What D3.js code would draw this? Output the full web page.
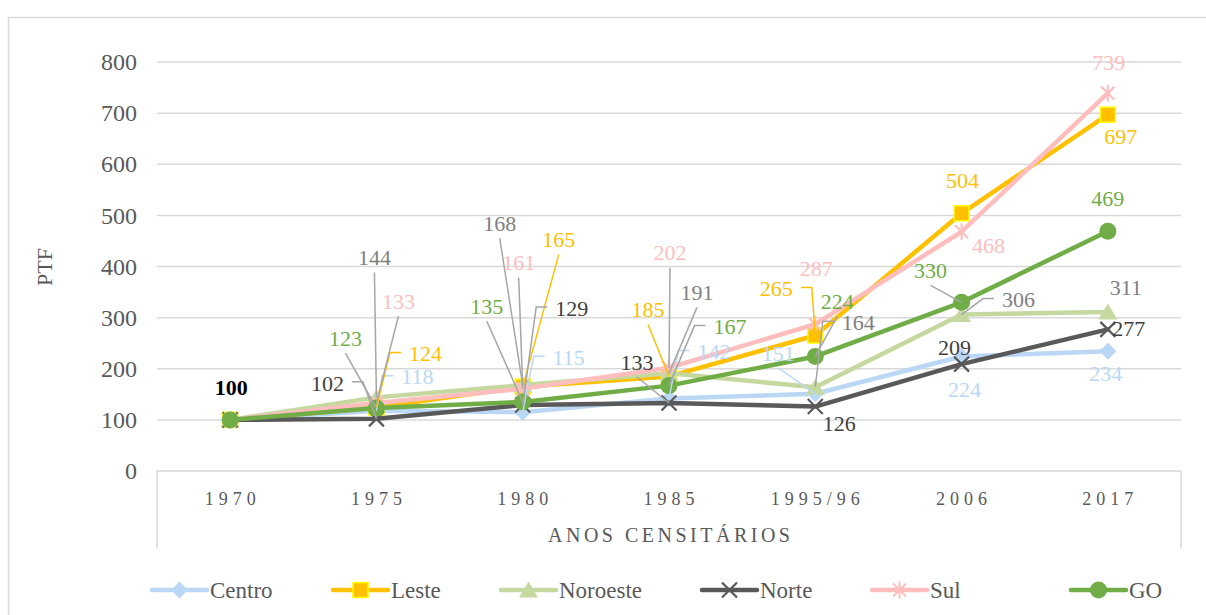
<!DOCTYPE html>
<html><head><meta charset="utf-8">
<script src="https://cdn.jsdelivr.net/npm/d3@7"></script>
<style>
body{margin:0;background:#fff}
svg{display:block}
text{font-family:"Liberation Serif","Times New Roman",serif}
</style>
</head><body>
<svg id="c" width="1206" height="615"></svg>
<script>
// ---------------- data ----------------
const categories = ["1970","1975","1980","1985","1995/96","2006","2017"];
const centro   = [100,118,115,142,151,224,234];
const leste    = [100,124,165,185,265,504,697];
const noroeste = [100,144,168,191,164,306,311];
const norte    = [100,102,129,133,126,209,277];
const sul      = [100,133,161,202,287,468,739];
const go       = [100,123,135,167,224,330,469];
const yTicks   = [0,100,200,300,400,500,600,700,800];
const seriesNames = ["Centro","Leste","Noroeste","Norte","Sul","GO"];
const seriesValues = [centro,leste,noroeste,norte,sul,go];

// ---------------- styles / layout ----------------
const styles = {
  Centro:  {color:"#BAD8F5", label:"#BAD8F5", leader:"#BAD8F5", marker:"diamond"},
  Leste:   {color:"#FFC000", label:"#FFC000", leader:"#FFC000", marker:"square"},
  Noroeste:{color:"#C5D8A0", label:"#7F7F7F", leader:"#A6A6A6", marker:"triangle"},
  Norte:   {color:"#595959", label:"#404040", leader:"#A6A6A6", marker:"x"},
  Sul:     {color:"#FFBDBD", label:"#FFBDBD", leader:"#A6A6A6", marker:"asterisk"},
  GO:      {color:"#70AD47", label:"#70AD47", leader:"#A6A6A6", marker:"circle"}
};
// label offsets from the point (dx, dy) and leader type: b=bottom, l=left elbow, r=right elbow, n=none
const labelLayout = {
  Centro:  [null,[41,-34,"l"],[46,-55,"l"],[45,-47,"l"],[-37,-41,"b"],[3,33,"n"],[-2,22,"n"]],
  Leste:   [null,[49,-54,"l"],[36,-147,"b"],[-21,-67,"b"],[-39,-47,"r"],[1,-33,"n"],[13,22,"n"]],
  Noroeste:[null,[-2,-140,"b"],[-23,-162,"b"],[28,-81,"b"],[43,-65,"l"],[57,-15,"l"],[18,-25,"n"]],
  Norte:   [null,[-49,-36,"r"],[49,-97,"l"],[-32,-41,"b"],[24,17,"n"],[-7,-17,"n"],[21,-1,"n"]],
  Sul:     [null,[22,-102,"b"],[-4,-126,"b"],[1,-115,"b"],[1,-56,"n"],[27,14,"n"],[1,-31,"n"]],
  GO:      [[1,-33,"n"],[-31,-70,"b"],[-36,-96,"b"],[61,-59,"l"],[22,-55,"b"],[-31,-32,"b"],[0,-33,"n"]]
};
const legendX = [152,333,501,702,872,1071];

const svg = d3.select("#c");
const L = 157, R = 1181, T = 62, B = 471;
const x = d3.scaleBand().domain(categories).range([L,R]);
const cx = c => x(c) + x.bandwidth()/2;
const y = d3.scaleLinear().domain([0,800]).range([B,T]);

// outer border
svg.append("rect").attr("x",8.5).attr("y",17.5).attr("width",1220).attr("height",620)
  .attr("fill","none").attr("stroke","#D9D9D9").attr("stroke-width",1.5);

// gridlines
svg.append("g").selectAll("line").data(yTicks).join("line")
  .attr("x1",L).attr("x2",R).attr("y1",d=>y(d)).attr("y2",d=>y(d))
  .attr("stroke","#D9D9D9").attr("stroke-width",1.5);

// category box lines
svg.append("line").attr("x1",L).attr("x2",L).attr("y1",B).attr("y2",548).attr("stroke","#D9D9D9").attr("stroke-width",1.5);
svg.append("line").attr("x1",R).attr("x2",R).attr("y1",B).attr("y2",548).attr("stroke","#D9D9D9").attr("stroke-width",1.5);

// y axis
const yAxis = svg.append("g").attr("transform",`translate(${L},0)`)
  .call(d3.axisLeft(y).tickValues(yTicks).tickSize(0).tickPadding(20));
yAxis.select(".domain").remove();
yAxis.attr("font-family",null);
yAxis.selectAll("text").attr("font-size",24).attr("fill","#595959")
  .style("font-family","'Liberation Serif',serif");

// x axis
const ls = 5;
const xAxis = svg.append("g").attr("transform",`translate(0,${B})`)
  .call(d3.axisBottom(x).tickSize(0).tickPadding(21));
xAxis.select(".domain").remove();
xAxis.attr("font-family",null);
xAxis.selectAll("text").attr("font-size",18).attr("fill","#595959")
  .attr("dx",ls/2).style("letter-spacing",ls+"px")
  .style("font-family","'Liberation Serif',serif");

// axis titles
svg.append("text").attr("x",(L+R)/2+1.75).attr("y",542).attr("text-anchor","middle")
  .attr("font-size",20).attr("fill","#595959").style("letter-spacing","3.5px").text("ANOS CENSITÁRIOS");
svg.append("text").attr("transform","translate(52,267) rotate(-90)").attr("text-anchor","middle")
  .attr("font-size",22).attr("fill","#595959").text("PTF");

// marker drawer
function drawMarker(g, type, st){
  if(type==="diamond") g.append("path").attr("d","M0,-8.5L8.5,0L0,8.5L-8.5,0Z").attr("fill",st.color);
  else if(type==="square") g.append("rect").attr("x",-7.5).attr("y",-7.5).attr("width",15).attr("height",15)
      .attr("fill","#FFC000").attr("stroke","#FFFF00").attr("stroke-width",1.5);
  else if(type==="triangle") g.append("path").attr("d","M0,-8.5L9.5,7.5L-9.5,7.5Z").attr("fill",st.color);
  else if(type==="x") g.append("path").attr("d","M-7.5,-7.5L7.5,7.5M-7.5,7.5L7.5,-7.5").attr("stroke",st.color).attr("stroke-width",2.2).attr("fill","none");
  else if(type==="asterisk") g.append("path").attr("d","M-6.5,-6.5L6.5,6.5M-6.5,6.5L6.5,-6.5M0,-8.5L0,8.5").attr("stroke",st.color).attr("stroke-width",2).attr("fill","none");
  else if(type==="circle") g.append("circle").attr("r",8.5).attr("fill",st.color);
}

const line = d3.line().x((d,i)=>cx(categories[i])).y(d=>y(d));

// series
seriesNames.forEach((name,si)=>{
  const st = styles[name], vals = seriesValues[si];
  const g = svg.append("g");
  g.append("path").datum(vals).attr("d",line).attr("fill","none")
    .attr("stroke",st.color).attr("stroke-width",4.5).attr("stroke-linejoin","round").attr("stroke-linecap","round");
  vals.forEach((v,i)=>{
    const mg = g.append("g").attr("transform",`translate(${cx(categories[i])},${y(v)})`);
    drawMarker(mg, st.marker, st);
  });
});

// labels + leaders
const leaderG = svg.append("g");
const labelG = svg.append("g");
seriesNames.forEach((name,si)=>{
  const st = styles[name], vals = seriesValues[si];
  vals.forEach((v,i)=>{
    const lay = labelLayout[name][i];
    if(!lay) return;
    const px = cx(categories[i]), py = y(v);
    const lx = px + lay[0], ly = py + lay[1];
    const isFirst = (i===0);
    const t = labelG.append("text").attr("x",lx).attr("y",ly).attr("dy","0.35em")
      .attr("text-anchor","middle").attr("font-size",22)
      .attr("fill", isFirst ? "#000" : st.label)
      .attr("font-weight", isFirst ? "bold" : null)
      .text(v);
    const w = t.node().getBBox().width/2;
    let pts = null;
    if(lay[2]==="b") pts = [[lx,ly+15],[px,py]];
    else if(lay[2]==="l") pts = [[lx-w-8,ly-1],[lx-w-19,ly-1],[px,py]];
    else if(lay[2]==="r") pts = [[lx+w+8,ly-1],[lx+w+19,ly-1],[px,py]];
    if(pts) leaderG.append("path").attr("d",d3.line()(pts)).attr("fill","none")
      .attr("stroke",st.leader).attr("stroke-width",1.5);
  });
});

// legend
const legY = 590;
seriesNames.forEach((name,i)=>{
  const st = styles[name];
  const g = svg.append("g").attr("transform",`translate(${legendX[i]},${legY})`);
  g.append("line").attr("x1",0).attr("x2",55).attr("y1",0).attr("y2",0)
    .attr("stroke",st.color).attr("stroke-width",4.5).attr("stroke-linecap","round");
  const mg = g.append("g").attr("transform","translate(27.5,0)");
  drawMarker(mg, st.marker, st);
  g.append("text").attr("x",58).attr("y",0).attr("dy","0.35em").attr("font-size",23)
    .attr("fill","#595959").text(name);
});
</script>
</body></html>
